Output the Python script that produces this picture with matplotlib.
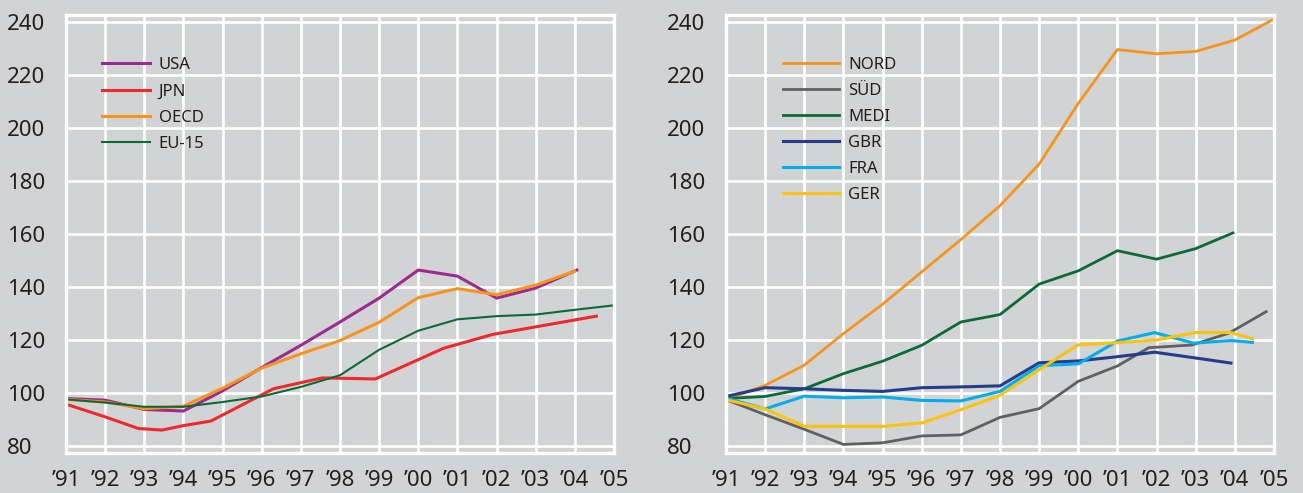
import matplotlib
matplotlib.use("Agg")
import matplotlib.pyplot as plt

plt.rcParams['font.family'] = ['Noto Sans', 'DejaVu Sans']

# left panel
usa_x = [1991, 1992, 1993, 1994, 1995, 1996, 1997, 1998, 1999, 2000, 2001, 2002, 2003, 2004.05]
usa = [97.9, 97.3, 93.8, 93.2, 100.8, 109.6, 118.0, 126.8, 135.8, 146.4, 144.1, 135.8, 139.6, 146.4]
jpn_x = [1991, 1992, 1992.85, 1993.45, 1994, 1994.7, 1996.3, 1997.55, 1998.9, 2000.65, 2001.9, 2004.55]
jpn = [95.8, 91.0, 86.6, 86.0, 87.7, 89.4, 101.6, 105.7, 105.3, 116.9, 122.1, 129.0]
oecd_x = [1991, 1992, 1993, 1994, 1995, 1996, 1997, 1998, 1999, 2000, 2001, 2002, 2003, 2004]
oecd = [97.6, 96.6, 94.1, 95.0, 101.8, 109.4, 114.8, 119.8, 126.7, 136.0, 139.4, 137.1, 140.7, 146.0]
eu_x = [1991, 1992, 1993, 1994, 1995, 1996, 1997, 1998, 1999, 2000, 2001, 2002, 2003, 2004, 2004.95]
eu = [97.6, 96.4, 94.8, 94.8, 96.6, 98.7, 102.3, 106.7, 116.3, 123.5, 127.8, 129.0, 129.6, 131.4, 133.0]

# right panel
yrs = [1991, 1992, 1993, 1994, 1995, 1996, 1997, 1998, 1999, 2000, 2001, 2002, 2003, 2004, 2005]
nord = [97.5, 102.9, 110.5, 122.4, 133.5, 145.7, 157.9, 170.7, 186.4, 209.3, 229.6, 228.0, 228.9, 233.2, 241.1]
sud_x = [1991, 1992, 1993, 1994, 1995, 1996, 1997, 1998, 1999, 2000, 2001, 2001.8, 2002.9, 2003.85, 2004.8]
sud = [97.5, 91.8, 86.3, 80.6, 81.2, 83.8, 84.2, 90.8, 94.1, 104.4, 110.2, 117.1, 118.1, 122.6, 130.7]
medi_x = [1991, 1992, 1993, 1994, 1995, 1996, 1997, 1998, 1999, 2000, 2001, 2002, 2003, 2003.95]
medi = [97.9, 98.7, 101.6, 107.3, 112.0, 118.0, 126.8, 129.6, 141.1, 146.1, 153.7, 150.5, 154.5, 160.4]
gbr_x = [1991, 1992, 1993, 1994, 1995, 1996, 1997, 1998, 1999, 2000, 2001, 2001.95, 2003, 2003.9]
gbr = [98.7, 102.0, 101.6, 101.0, 100.6, 102.0, 102.3, 102.7, 111.4, 112.1, 113.7, 115.4, 113.2, 111.3]
fra_x = [1991, 1992, 1993, 1994, 1995, 1996, 1997, 1998, 1999, 2000, 2001, 2001.95, 2002.95, 2003.9, 2004.45]
fra = [98.1, 94.0, 98.8, 98.2, 98.5, 97.2, 97.0, 100.6, 110.3, 111.0, 119.6, 122.8, 118.8, 119.8, 119.1]
ger_x = [1991, 1992, 1993, 1994, 1995, 1996, 1997, 1998, 1999, 2000, 2001, 2002, 2003, 2003.9, 2004.45]
ger = [97.5, 94.0, 87.4, 87.4, 87.4, 88.7, 93.7, 99.1, 108.8, 118.2, 119.0, 120.0, 122.8, 122.8, 120.5]

xticks = list(range(1991, 2006))
xlabels = ['\u2019' + str(y)[2:] for y in xticks]
yticks = [80, 100, 120, 140, 160, 180, 200, 220, 240]

bg = '#d1d3d4'
txt = '#231f20'

fig = plt.figure(figsize=(13.03, 4.93), dpi=100, facecolor=bg)
ax1 = fig.add_axes([66 / 1303, 1 - 453 / 493, 548 / 1303, 438 / 493])
ax2 = fig.add_axes([726 / 1303, 1 - 453 / 493, 548 / 1303, 438 / 493])

ax1.plot(usa_x, usa, color='#9c2b8f', lw=2.2, label='USA')
ax1.plot(jpn_x, jpn, color='#ee2a2f', lw=2.2, label='JPN')
ax1.plot(oecd_x, oecd, color='#f7941d', lw=2.2, label='OECD')
ax1.plot(eu_x, eu, color='#0b6b37', lw=1.5, label='EU-15')

ax2.plot(yrs, nord, color='#f7941d', lw=2.0, label='NORD')
ax2.plot(sud_x, sud, color='#5f6062', lw=2.0, label='SÜD')
ax2.plot(medi_x, medi, color='#0b6b37', lw=2.0, label='MEDI')
ax2.plot(gbr_x, gbr, color='#253b8c', lw=2.2, label='GBR')
ax2.plot(fra_x, fra, color='#00aeef', lw=2.2, label='FRA')
ax2.plot(ger_x, ger, color='#fcc30b', lw=2.2, label='GER')

for ax in (ax1, ax2):
    ax.set_facecolor(bg)
    ax.set_xlim(1991, 2005)
    ax.set_ylim(77.36, 242.64)
    ax.set_xticks(xticks)
    ax.set_xticklabels(xlabels)
    ax.set_yticks(yticks)
    ax.grid(True, color='white', lw=1.9)
    ax.set_axisbelow(True)
    for s in ax.spines.values():
        s.set_color('white')
        s.set_linewidth(2.4)
    ax.tick_params(length=0, labelsize=16, colors=txt)
    ax.tick_params(axis='x', pad=12)
    ax.tick_params(axis='y', pad=42.5)
    for lbl in ax.get_yticklabels():
        lbl.set_horizontalalignment('left')

leg1 = ax1.legend(loc='upper left', bbox_to_anchor=(0.0666, 0.904), frameon=False,
                  fontsize=12, handlelength=2.87, handletextpad=0.5, labelspacing=0.62,
                  borderpad=0, borderaxespad=0)
leg2 = ax2.legend(loc='upper left', bbox_to_anchor=(0.104, 0.904), frameon=False,
                  fontsize=12, handlelength=3.35, handletextpad=0.55, labelspacing=0.6,
                  borderpad=0, borderaxespad=0)
for leg in (leg1, leg2):
    for t in leg.get_texts():
        t.set_color(txt)

fig.savefig('out.png', dpi=100, facecolor=bg)
